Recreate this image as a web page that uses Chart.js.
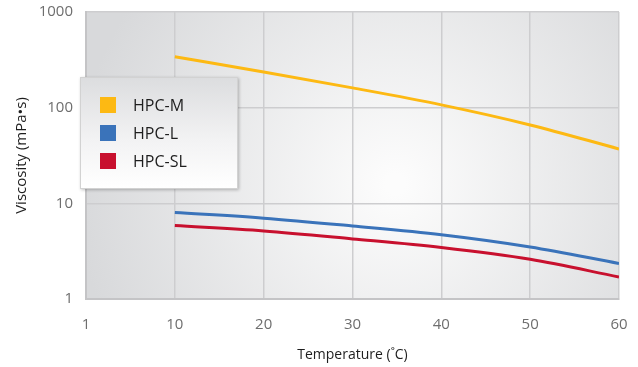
<!DOCTYPE html>
<html>
<head>
<meta charset="utf-8">
<script src="https://cdn.jsdelivr.net/npm/chart.js@4.4.0/dist/chart.umd.min.js"></script>
<style>
    body {
        margin: 0;
        background: #fff;
        font-family: 'Open Sans', sans-serif;
    }
    #wrap {
        position: relative;
        width: 638px;
        height: 367px;
    }
    #legend {
        position: absolute;
        left: 80px;
        top: 77px;
        width: 158px;
        height: 112px;
        border: 1px solid #d2d2d2;
        background: linear-gradient(to bottom, #dcdddf 0%, #f2f2f3 55%, #ffffff 100%);
        box-shadow: 1px 1px 3px rgba(0, 0, 0, 0.25);
        box-sizing: border-box;
        padding-top: 13px;
    }
    .item {
        display: flex;
        align-items: center;
        height: 28px;
        padding-left: 19px;
        font-size: 16px;
        color: #1e1e1e;
    }
    .item span.box {
        width: 16px;
        height: 16px;
        margin-right: 17px;
    }
</style>
</head>
<body>
<div id="wrap">
    <canvas id="chart" width="638" height="367"></canvas>
    <div id="legend"></div>
</div>
<script>
// temperatures (°C)
const temps = [10, 20, 30, 40, 50, 60];
// viscosity, mPa·s
const hpcM = [340, 236, 161, 107, 66, 37];
const hpcL = [8.0, 7.0, 5.8, 4.7, 3.5, 2.35];
const hpcSL = [5.85, 5.15, 4.25, 3.45, 2.6, 1.7];

const seriesNames = ['HPC-M', 'HPC-L', 'HPC-SL'];
const seriesColors = ['#fdb913', '#3a73ba', '#c8102e'];

const xTicks = [0, 10, 20, 30, 40, 50, 60];
const xTickLabels = ['1', '10', '20', '30', '40', '50', '60'];
const yTicks = [1, 10, 100, 1000];

const toPoints = vals => vals.map((v, i) => ({ x: temps[i], y: v }));

const datasets = [hpcM, hpcL, hpcSL].map((vals, i) => ({
    label: seriesNames[i],
    data: toPoints(vals),
    borderColor: seriesColors[i],
    backgroundColor: seriesColors[i],
    borderWidth: 3,
    pointRadius: 0,
    cubicInterpolationMode: 'monotone',
    fill: false
}));

// gray radial background behind the plot
const plotBg = {
    id: 'plotBg',
    beforeDraw(chart) {
        const { ctx, chartArea: a } = chart;
        const cx = a.left + a.width * 0.58, cy = a.top + a.height * 0.6;
        const g = ctx.createRadialGradient(cx, cy, 10, cx, cy, a.width * 0.6);
        g.addColorStop(0, '#fcfcfc');
        g.addColorStop(1, '#d8d9db');
        ctx.save();
        ctx.fillStyle = g;
        ctx.fillRect(a.left, a.top, a.width, a.height);
        ctx.restore();
    }
};

const ctx = document.getElementById('chart').getContext('2d');
const chart = new Chart(ctx, {
    type: 'line',
    data: { datasets },
    plugins: [plotBg],
    options: {
        responsive: false,
        animation: false,
        layout: { padding: { left: 0, right: 19, top: 12, bottom: 0 } },
        plugins: {
            legend: { display: false },
            tooltip: { enabled: false }
        },
        scales: {
            x: {
                type: 'linear',
                min: 0,
                max: 60,
                afterBuildTicks: s => { s.ticks = xTicks.map(v => ({ value: v })); },
                afterFit: s => { s.height = 68; s.paddingLeft = 0; s.paddingRight = 0; },
                ticks: {
                    color: '#6e6e6e',
                    font: { family: 'Open Sans', size: 15 },
                    padding: 17,
                    callback: (v) => xTickLabels[xTicks.indexOf(v)]
                },
                grid: { color: '#cdcdcf', lineWidth: 1.5, drawTicks: false },
                border: { color: '#c4c4c6', width: 2 },
                title: {
                    display: true,
                    text: 'Temperature (˚C)',
                    color: '#1e1e1e',
                    font: { family: 'Open Sans', size: 14 },
                    padding: { top: 2 }
                }
            },
            y: {
                type: 'logarithmic',
                min: 1,
                max: 1000,
                afterBuildTicks: s => { s.ticks = yTicks.map(v => ({ value: v })); },
                afterFit: s => { s.width = 86; s.paddingTop = 0; s.paddingBottom = 0; },
                ticks: {
                    color: '#6e6e6e',
                    font: { family: 'Open Sans', size: 15 },
                    padding: 13,
                    callback: v => String(v)
                },
                grid: { color: '#cdcdcf', lineWidth: 1.5, drawTicks: false },
                border: { color: '#c4c4c6', width: 2 },
                title: {
                    display: true,
                    text: 'Viscosity (mPa•s)',
                    color: '#1e1e1e',
                    font: { family: 'Open Sans', size: 15 },
                    padding: { top: 13, bottom: 0 }
                }
            }
        }
    }
});

// html legend built from the datasets
const legend = document.getElementById('legend');
chart.data.datasets.forEach(ds => {
    const row = document.createElement('div');
    row.className = 'item';
    row.innerHTML = `<span class="box" style="background:${ds.borderColor}"></span>${ds.label}`;
    legend.appendChild(row);
});
</script>
</body>
</html>
